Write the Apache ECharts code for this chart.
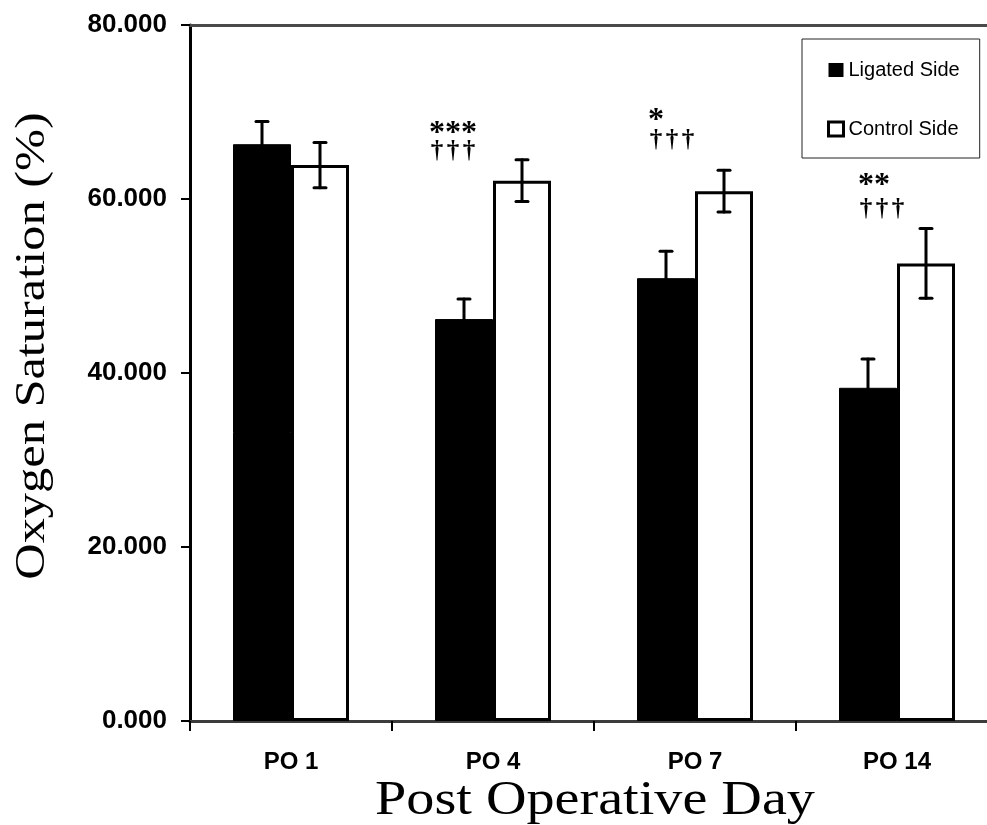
<!DOCTYPE html>
<html>
<head>
<meta charset="utf-8">
<title>Oxygen Saturation by Post Operative Day</title>
<script src="https://cdn.jsdelivr.net/npm/echarts@6/dist/echarts.min.js"></script>
<style>
  html, body { margin: 0; padding: 0; background: #fff; }
  #chart { width: 987px; height: 825px; }
</style>
</head>
<body>
<div id="chart"></div>
<script>
// Mean oxygen saturation (%) with standard error, per post operative day
const categories = ['PO 1', 'PO 4', 'PO 7', 'PO 14'];
const ligatedMean = [66.3, 46.2, 50.9, 38.3];
const ligatedErr = [2.6, 2.3, 3.1, 3.3];
const controlMean = [63.9, 62.1, 60.9, 52.6];
const controlErr = [2.6, 2.4, 2.4, 4.0];

// Significance marks shown above each day
const starMarks = ['', '***', '*', '**'];
const daggerMarks = ['', '†††', '†††', '†††'];

// Value axis
const yMin = 0, yMax = 80, yStep = 20;

// Layout of the significance marks, in pixels from the category centre
// and from the top of the control error bar
const markLayout = [
  null,
  { dx: -56, starDy: -30, daggerDy: -8 },
  { dx: -39, starDy: -54, daggerDy: -30 },
  { dx: -31, starDy: -47, daggerDy: -19 }
];
const BAR_W = 58;
const GLYPH_STEP = 16;
const SERIF = 'Liberation Serif';
const SANS = 'Liberation Sans';

const chart = echarts.init(document.getElementById('chart'), null, { renderer: 'canvas' });

function errorBarRenderer(side) {
  return function (params, api) {
    const idx = api.value(0);
    const mean = api.value(1);
    const err = api.value(2);
    const x = api.coord([idx, mean])[0] + side * BAR_W / 2;
    const yTop = api.coord([idx, mean + err])[1];
    const yBot = api.coord([idx, mean - err])[1];
    const cap = 6;
    const st = { stroke: '#000', lineWidth: 3, lineCap: 'round' };
    return {
      type: 'group',
      children: [
        { type: 'line', shape: { x1: x, y1: yTop, x2: x, y2: yBot }, style: st },
        { type: 'line', shape: { x1: x - cap, y1: yTop, x2: x + cap, y2: yTop }, style: st },
        { type: 'line', shape: { x1: x - cap, y1: yBot, x2: x + cap, y2: yBot }, style: st }
      ]
    };
  };
}

function marksRenderer(params, api) {
  const idx = api.value(0);
  const lay = markLayout[idx];
  if (!lay) return null;
  const anchor = api.coord([idx, api.value(1)]);
  const x0 = anchor[0] + lay.dx;
  const children = [];
  starMarks[idx].split('').forEach(function (ch, k) {
    children.push({
      type: 'text',
      style: {
        text: ch, x: x0 + k * GLYPH_STEP, y: anchor[1] + lay.starDy + 4,
        align: 'center', verticalAlign: 'middle',
        fontFamily: SERIF, fontSize: 32, fontWeight: 'bold', fill: '#000'
      }
    });
  });
  daggerMarks[idx].split('').forEach(function (ch, k) {
    children.push({
      type: 'text',
      style: {
        text: ch, x: x0 + k * GLYPH_STEP, y: anchor[1] + lay.daggerDy,
        align: 'center', verticalAlign: 'middle',
        fontFamily: SERIF, fontSize: 25, fontWeight: 'bold', fill: '#000'
      }
    });
  });
  return { type: 'group', children: children };
}

const ligatedErrData = categories.map(function (c, i) { return [i, ligatedMean[i], ligatedErr[i]]; });
const controlErrData = categories.map(function (c, i) { return [i, controlMean[i], controlErr[i]]; });
const markData = categories.map(function (c, i) { return [i, controlMean[i] + controlErr[i]]; });

const option = {
  animation: false,
  backgroundColor: '#fff',
  grid: {
    left: 190, right: -11, top: 25, bottom: 104,
    containLabel: false, outerBoundsMode: 'none'
  },
  legend: {
    orient: 'vertical',
    left: 802, top: 39,
    padding: [21, 20, 19, 25],
    itemGap: 39,
    itemWidth: 15, itemHeight: 14,
    icon: 'rect',
    backgroundColor: '#fff',
    borderColor: '#222', borderWidth: 1, borderRadius: 0,
    textStyle: { fontFamily: SANS, fontSize: 20, color: '#000' },
    data: [
      { name: 'Ligated Side', itemStyle: { color: '#000', borderWidth: 0 } },
      { name: 'Control Side', itemStyle: { color: '#fff', borderColor: '#000', borderWidth: 3 } }
    ]
  },
  xAxis: [
    {
      type: 'category',
      data: categories,
      position: 'bottom',
      axisLine: { show: true, onZero: false, lineStyle: { color: '#3c3c3c', width: 3 } },
      axisTick: { show: true, alignWithLabel: false, length: 10, lineStyle: { color: '#000', width: 2 } },
      axisLabel: {
        margin: 29,
        fontFamily: SANS, fontWeight: 'bold', fontSize: 24, color: '#000'
      },
      splitLine: { show: false }
    },
    {
      type: 'category',
      data: categories,
      position: 'top',
      axisLine: { show: true, onZero: false, lineStyle: { color: '#4a4a4a', width: 3 } },
      axisTick: { show: false },
      axisLabel: { show: false },
      splitLine: { show: false }
    }
  ],
  yAxis: {
    type: 'value',
    min: yMin, max: yMax, interval: yStep,
    axisLine: { show: true, lineStyle: { color: '#000', width: 3 } },
    axisTick: { show: true, inside: false, length: 9, lineStyle: { color: '#000', width: 2 } },
    axisLabel: {
      margin: 23,
      formatter: function (v) { return v.toFixed(3); },
      fontFamily: SANS, fontWeight: 'bold', fontSize: 26, color: '#000'
    },
    splitLine: { show: false }
  },
  series: [
    {
      name: 'Ligated Side',
      type: 'bar',
      data: ligatedMean,
      barWidth: BAR_W,
      barGap: '0%',
      itemStyle: { color: '#000', borderColor: '#000', borderWidth: 1 },
      z: 2
    },
    {
      name: 'Control Side',
      type: 'bar',
      data: controlMean,
      barWidth: BAR_W,
      barGap: '0%',
      itemStyle: { color: '#fff', borderColor: '#000', borderWidth: 3 },
      z: 2
    },
    {
      type: 'custom',
      name: 'ligatedErr',
      renderItem: errorBarRenderer(-1),
      data: ligatedErrData,
      encode: { x: 0, y: 1 },
      z: 3,
      silent: true
    },
    {
      type: 'custom',
      name: 'controlErr',
      renderItem: errorBarRenderer(1),
      data: controlErrData,
      encode: { x: 0, y: 1 },
      z: 3,
      silent: true
    },
    {
      type: 'custom',
      name: 'marks',
      renderItem: marksRenderer,
      data: markData,
      encode: { x: 0, y: 1 },
      z: 4,
      silent: true
    }
  ],
  graphic: [
    {
      type: 'text',
      x: 595, y: 801,
      scaleX: 1.17,
      style: {
        text: 'Post Operative Day',
        fontFamily: SERIF, fontSize: 48,
        fill: '#000', align: 'center', verticalAlign: 'middle'
      }
    },
    {
      type: 'text',
      x: 33, y: 346,
      rotation: Math.PI / 2,
      scaleX: 1.2,
      style: {
        text: 'Oxygen Saturation (%)',
        fontFamily: SERIF, fontSize: 42,
        fill: '#000', align: 'center', verticalAlign: 'middle'
      }
    }
  ]
};

chart.setOption(option);
</script>
</body>
</html>
